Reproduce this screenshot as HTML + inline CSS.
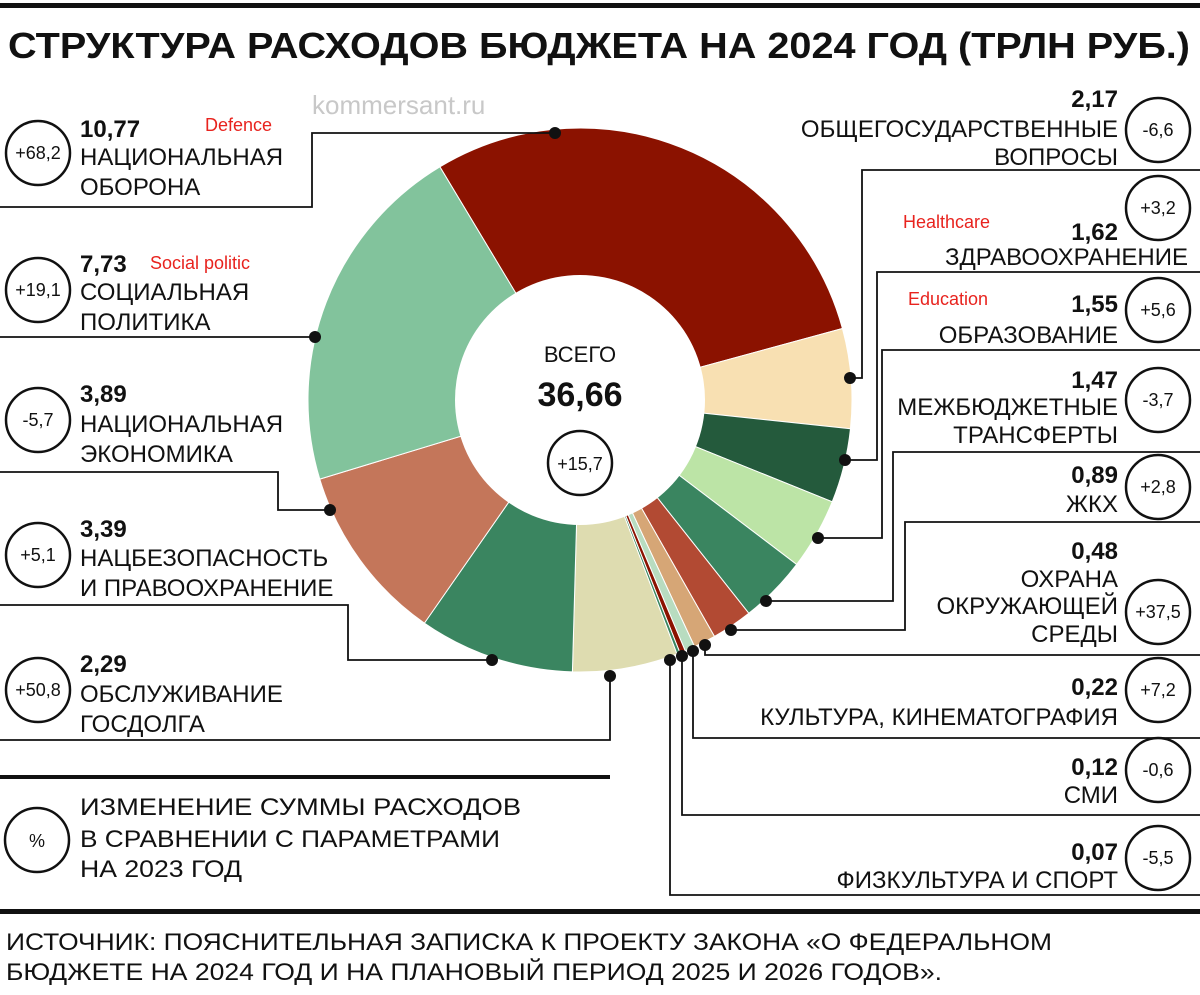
<!DOCTYPE html>
<html><head><meta charset="utf-8"><style>
body{margin:0;background:#fff}
svg{display:block}
text{font-family:"Liberation Sans",sans-serif;fill:#111}
.l{font-size:24px}
.n{font-size:24px;font-weight:bold}
.c{font-size:18px;text-anchor:middle}
.r{text-anchor:end}
.red{fill:#e8231e;font-size:18px}
</style></head><body>
<svg id="s" width="1200" height="995" viewBox="0 0 1200 995" xmlns="http://www.w3.org/2000/svg">
<rect x="0" y="0" width="1200" height="995" fill="#fff"/>
<rect x="0" y="3" width="1200" height="5" fill="#111"/>
<text x="8" y="58" font-size="36" font-weight="bold" textLength="1182" lengthAdjust="spacingAndGlyphs">СТРУКТУРА РАСХОДОВ БЮДЖЕТА НА 2024 ГОД (ТРЛН РУБ.)</text>
<g id="pie"></g>
<circle cx="580" cy="400" r="125" fill="#fff"/>
<text x="580" y="362" font-size="22" text-anchor="middle">ВСЕГО</text>
<text x="580" y="406" font-size="34" font-weight="bold" text-anchor="middle">36,66</text>
<circle cx="580" cy="463" r="32" fill="#fff" stroke="#111" stroke-width="2.5"/>
<text x="580" y="470" class="c">+15,7</text>
<text x="312" y="114" font-size="26" style="fill:#c8c8c8">kommersant.ru</text>

<g fill="none" stroke="#111" stroke-width="1.8">
<polyline points="0,207 312,207 312,133 555,133"/>
<polyline points="0,337 315,337"/>
<polyline points="0,472 278,472 278,510 330,510"/>
<polyline points="0,605 348,605 348,660 492,660"/>
<polyline points="0,740 610,740 610,676"/>
<polyline points="850,378 862,378 862,170 1200,170"/>
<polyline points="845,460 877,460 877,272 1200,272"/>
<polyline points="818,538 882,538 882,350 1200,350"/>
<polyline points="766,601 893,601 893,452 1200,452"/>
<polyline points="731,630 905,630 905,522 1200,522"/>
<polyline points="705,645 705,655 1200,655"/>
<polyline points="693,651 693,738 1200,738"/>
<polyline points="682,656 682,815 1200,815"/>
<polyline points="670,660 670,895 1200,895"/>
</g>
<g fill="#111">
<circle cx="555" cy="133" r="6"/><circle cx="315" cy="337" r="6"/><circle cx="330" cy="510" r="6"/>
<circle cx="492" cy="660" r="6"/><circle cx="610" cy="676" r="6"/><circle cx="850" cy="378" r="6"/>
<circle cx="845" cy="460" r="6"/><circle cx="818" cy="538" r="6"/><circle cx="766" cy="601" r="6"/>
<circle cx="731" cy="630" r="6"/><circle cx="705" cy="645" r="6"/><circle cx="693" cy="651" r="6"/>
<circle cx="682" cy="656" r="6"/><circle cx="670" cy="660" r="6"/>
</g>
<rect x="0" y="775" width="610" height="4" fill="#111"/>
<rect x="0" y="909" width="1200" height="5" fill="#111"/>

<g fill="#fff" stroke="#111" stroke-width="2.5">
<circle cx="38" cy="153" r="32"/><circle cx="38" cy="290" r="32"/><circle cx="38" cy="420" r="32"/>
<circle cx="38" cy="555" r="32"/><circle cx="38" cy="690" r="32"/><circle cx="37" cy="840" r="32"/>
<circle cx="1158" cy="130" r="32"/><circle cx="1158" cy="208" r="32"/><circle cx="1158" cy="310" r="32"/>
<circle cx="1158" cy="400" r="32"/><circle cx="1158" cy="487" r="32"/><circle cx="1158" cy="612" r="32"/>
<circle cx="1158" cy="690" r="32"/><circle cx="1158" cy="770" r="32"/><circle cx="1158" cy="858" r="32"/>
</g>
<text x="38" y="159" class="c">+68,2</text><text x="38" y="296" class="c">+19,1</text><text x="38" y="426" class="c">-5,7</text>
<text x="38" y="561" class="c">+5,1</text><text x="38" y="696" class="c">+50,8</text><text x="37" y="847" class="c" font-size="22">%</text>
<text x="1158" y="136" class="c">-6,6</text><text x="1158" y="214" class="c">+3,2</text><text x="1158" y="316" class="c">+5,6</text>
<text x="1158" y="406" class="c">-3,7</text><text x="1158" y="493" class="c">+2,8</text><text x="1158" y="618" class="c">+37,5</text>
<text x="1158" y="696" class="c">+7,2</text><text x="1158" y="776" class="c">-0,6</text><text x="1158" y="864" class="c">-5,5</text>

<text x="80" y="137" class="n">10,77</text><text x="80" y="165" class="l">НАЦИОНАЛЬНАЯ</text><text x="80" y="195" class="l">ОБОРОНА</text>
<text x="205" y="131" class="red">Defence</text>
<text x="80" y="272" class="n">7,73</text><text x="80" y="300" class="l">СОЦИАЛЬНАЯ</text><text x="80" y="330" class="l">ПОЛИТИКА</text>
<text x="150" y="269" class="red">Social politic</text>
<text x="80" y="402" class="n">3,89</text><text x="80" y="432" class="l">НАЦИОНАЛЬНАЯ</text><text x="80" y="462" class="l">ЭКОНОМИКА</text>
<text x="80" y="537" class="n">3,39</text><text x="80" y="566" class="l">НАЦБЕЗОПАСНОСТЬ</text><text x="80" y="596" class="l">И ПРАВООХРАНЕНИЕ</text>
<text x="80" y="672" class="n">2,29</text><text x="80" y="702" class="l">ОБСЛУЖИВАНИЕ</text><text x="80" y="732" class="l">ГОСДОЛГА</text>
<text x="80" y="815" class="l" textLength="441" lengthAdjust="spacingAndGlyphs">ИЗМЕНЕНИЕ СУММЫ РАСХОДОВ</text><text x="80" y="847" class="l" textLength="420" lengthAdjust="spacingAndGlyphs">В СРАВНЕНИИ С ПАРАМЕТРАМИ</text><text x="80" y="877" class="l" textLength="162" lengthAdjust="spacingAndGlyphs">НА 2023 ГОД</text>

<text x="1118" y="107" class="n r">2,17</text><text x="1118" y="137" class="l r">ОБЩЕГОСУДАРСТВЕННЫЕ</text><text x="1118" y="165" class="l r">ВОПРОСЫ</text>
<text x="903" y="228" class="red">Healthcare</text>
<text x="1118" y="240" class="n r">1,62</text><text x="1188" y="265" class="l r">ЗДРАВООХРАНЕНИЕ</text>
<text x="908" y="305" class="red">Education</text>
<text x="1118" y="312" class="n r">1,55</text><text x="1118" y="343" class="l r">ОБРАЗОВАНИЕ</text>
<text x="1118" y="388" class="n r">1,47</text><text x="1118" y="415" class="l r">МЕЖБЮДЖЕТНЫЕ</text><text x="1118" y="443" class="l r">ТРАНСФЕРТЫ</text>
<text x="1118" y="483" class="n r">0,89</text><text x="1118" y="512" class="l r">ЖКХ</text>
<text x="1118" y="559" class="n r">0,48</text><text x="1118" y="587" class="l r">ОХРАНА</text><text x="1118" y="614" class="l r">ОКРУЖАЮЩЕЙ</text><text x="1118" y="642" class="l r">СРЕДЫ</text>
<text x="1118" y="695" class="n r">0,22</text><text x="1118" y="725" class="l r">КУЛЬТУРА, КИНЕМАТОГРАФИЯ</text>
<text x="1118" y="775" class="n r">0,12</text><text x="1118" y="803" class="l r">СМИ</text>
<text x="1118" y="860" class="n r">0,07</text><text x="1118" y="888" class="l r">ФИЗКУЛЬТУРА И СПОРТ</text>

<text x="6" y="950" class="l" textLength="1046" lengthAdjust="spacingAndGlyphs">ИСТОЧНИК: ПОЯСНИТЕЛЬНАЯ ЗАПИСКА К ПРОЕКТУ ЗАКОНА «О ФЕДЕРАЛЬНОМ</text>
<text x="6" y="980" class="l" textLength="936" lengthAdjust="spacingAndGlyphs">БЮДЖЕТЕ НА 2024 ГОД И НА ПЛАНОВЫЙ ПЕРИОД 2025 И 2026 ГОДОВ».</text>
</svg>
<script>
var d=[[10.77,"#8b1200"],[2.17,"#f8e0b2"],[1.62,"#245a3c"],[1.55,"#bce4a6"],[1.47,"#3a8560"],[0.89,"#b24a33"],[0.48,"#d6a676"],[0.22,"#b8dcc0"],[0.12,"#8b1200"],[0.07,"#3a8560"],[2.29,"#dedcb0"],[3.39,"#3a8560"],[3.89,"#c4765a"],[7.73,"#82c39c"]];
var cx=580,cy=400,R=272,tot=36.66,a=-31*Math.PI/180,s="";
d.forEach(function(e){var b=a+e[0]/tot*2*Math.PI;var x1=cx+R*Math.sin(a),y1=cy-R*Math.cos(a),x2=cx+R*Math.sin(b),y2=cy-R*Math.cos(b);
s+='<path d="M'+cx+','+cy+'L'+x1+','+y1+'A'+R+','+R+' 0 '+(b-a>Math.PI?1:0)+' 1 '+x2+','+y2+'Z" fill="'+e[1]+'" stroke="#fff" stroke-width="1"/>';a=b;});
document.getElementById("pie").innerHTML=s;
</script>
</body></html>
